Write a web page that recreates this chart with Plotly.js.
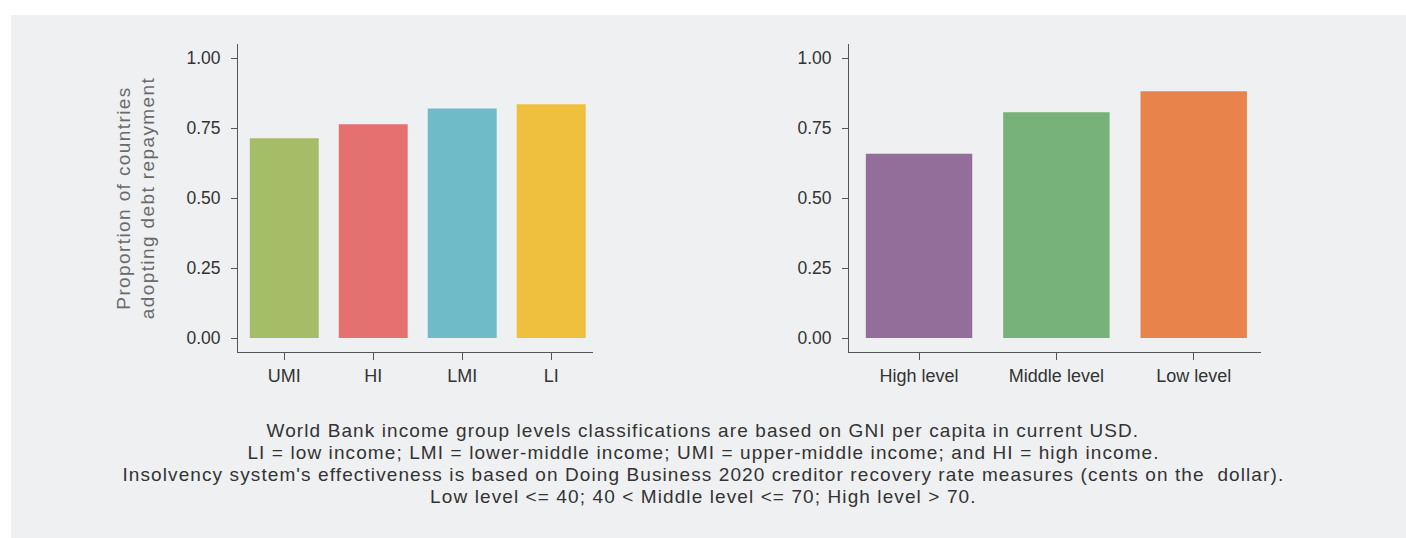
<!DOCTYPE html>
<html>
<head>
<meta charset="utf-8">
<script src="https://cdn.plot.ly/plotly-3.0.1.min.js"></script>
<style>
html,body{margin:0;padding:0;background:#fff;}
#chart{width:1406px;height:538px;}
#chart .annotation-text{letter-spacing:1.1px;}
#chart .ytitle{letter-spacing:1.4px;}
</style>
</head>
<body>
<div id="chart"></div>
<script>
const incomeGroups = ["UMI", "HI", "LMI", "LI"];
const incomeValues = [0.713, 0.763, 0.820, 0.835];
const incomeColors = ["#a5bd67", "#e57070", "#6fbbc8", "#efbf3e"];

const insolvencyLevels = ["High level", "Middle level", "Low level"];
const insolvencyValues = [0.658, 0.806, 0.881];
const insolvencyColors = ["#936e9b", "#77b27b", "#e8844b"];

const yTicks = [0, 0.25, 0.5, 0.75, 1.0];
const yTickLabels = ["0.00", "0.25", "0.50", "0.75", "1.00"];

const yTitle = "Proportion of countries<br>adopting debt repayment";
const captionLines = [
  "World Bank income group levels classifications are based on GNI per capita in current USD.",
  "LI = low income; LMI = lower-middle income; UMI = upper-middle income; and HI = high income.",
  "Insolvency system's effectiveness is based on Doing Business 2020 creditor recovery rate measures (cents on the  dollar).",
  "Low level <= 40; 40 < Middle level <= 70; High level > 70."
];

const W = 1406, H = 538;
const font = "Liberation Sans, Arial, Helvetica, sans-serif";
const axisColor = "#555555";
const textColor = "#333333";

function yAxisCfg() {
  return {
    range: [-0.05, 1.05],
    tickvals: yTicks,
    ticktext: yTickLabels,
    showgrid: false,
    zeroline: false,
    showline: true,
    linecolor: axisColor,
    linewidth: 1,
    ticks: "outside",
    ticklen: 6,
    tickcolor: axisColor,
    ticklabelstandoff: 7,
    tickfont: {family: font, size: 17.5, color: textColor},
    domain: [1 - 352/H, 1 - 44/H],
    automargin: false,
    fixedrange: true
  };
}
function xAxisCfg(domain, range) {
  return {
    domain: domain,
    range: range,
    type: "category",
    showgrid: false,
    zeroline: false,
    showline: true,
    linecolor: axisColor,
    linewidth: 1,
    ticks: "outside",
    ticklen: 7,
    tickcolor: axisColor,
    tickfont: {family: font, size: 18, color: textColor},
    automargin: false,
    fixedrange: true
  };
}

const traces = [
  {
    type: "bar", x: incomeGroups, y: incomeValues,
    marker: {color: incomeColors, line: {width: 0}},
    xaxis: "x", yaxis: "y", hoverinfo: "x+y", showlegend: false
  },
  {
    type: "bar", x: insolvencyLevels, y: insolvencyValues,
    marker: {color: insolvencyColors, line: {width: 0}},
    xaxis: "x2", yaxis: "y2", hoverinfo: "x+y", showlegend: false
  }
];

const y1 = yAxisCfg();
y1.title = {text: yTitle, font: {family: font, size: 19, color: "#6a6a6a"}, standoff: 26};
y1.anchor = "x";
const y2 = yAxisCfg();
y2.anchor = "x2";

const captionY = [430, 452, 474, 496];
const annotations = captionLines.map((t, i) => ({
  xref: "paper", yref: "paper", x: 0.5, y: 1 - captionY[i]/H,
  xanchor: "center", yanchor: "middle", align: "center",
  showarrow: false,
  text: t,
  font: {family: font, size: 19, color: textColor}
}));

const layout = {
  width: W, height: H,
  margin: {l: 0, r: 0, t: 0, b: 0, pad: 0},
  paper_bgcolor: "#ffffff",
  plot_bgcolor: "rgba(0,0,0,0)",
  bargap: 0.225,
  font: {family: font, color: textColor},
  xaxis: Object.assign(xAxisCfg([238/W, 593/W], [-0.52, 3.47]), {anchor: "y"}),
  yaxis: y1,
  xaxis2: Object.assign(xAxisCfg([849/W, 1261/W], [-0.51, 2.49]), {anchor: "y2"}),
  yaxis2: y2,
  shapes: [
    {type: "rect", xref: "paper", yref: "paper", x0: 11/W, x1: 1, y0: 0, y1: 1 - 15/H,
     fillcolor: "#eff0f2", line: {width: 0}, layer: "below"}
  ],
  annotations: annotations
};

Plotly.newPlot("chart", traces, layout, {displayModeBar: false, staticPlot: true});
</script>
</body>
</html>
